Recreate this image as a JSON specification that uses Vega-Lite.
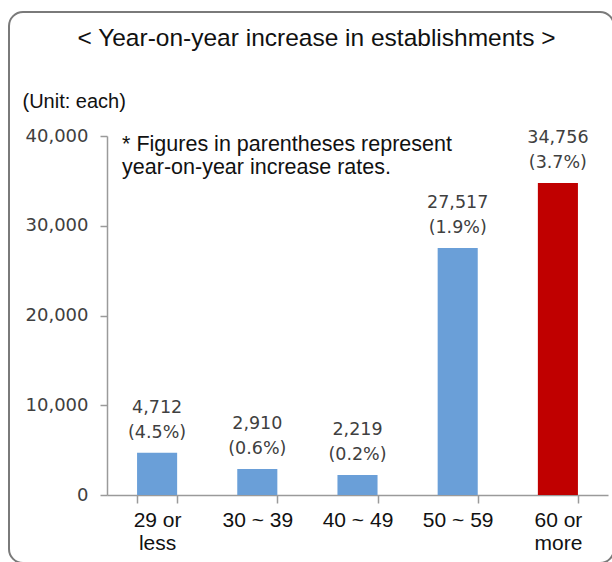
{
  "$schema": "https://vega.github.io/schema/vega-lite/v6.json",
  "autosize": {"type": "none"},
  "padding": {"left": 9, "top": 12, "right": 0, "bottom": 0},
  "width": 605,
  "height": 551,
  "background": "white",
  "title": {
    "text": "< Year-on-year increase in establishments >",
    "anchor": "middle",
    "frame": "group",
    "offset": -39,
    "dx": 5,
    "font": "Liberation Sans",
    "fontSize": 24.5,
    "fontWeight": "normal",
    "color": "#111111"
  },
  "config": {
    "view": {"stroke": "#7a7a7a", "strokeWidth": 2, "cornerRadius": 14}
  },
  "datasets": {
    "bars": [
      {"age": "29 or less", "count": 4712, "rate": "(4.5%)", "hl": "no"},
      {"age": "30 ~ 39", "count": 2910, "rate": "(0.6%)", "hl": "no"},
      {"age": "40 ~ 49", "count": 2219, "rate": "(0.2%)", "hl": "no"},
      {"age": "50 ~ 59", "count": 27517, "rate": "(1.9%)", "hl": "no"},
      {"age": "60 or more", "count": 34756, "rate": "(3.7%)", "hl": "yes"}
    ],
    "note": [
      {"age": "29 or less", "count": 40000, "note": "* Figures in parentheses represent|year-on-year increase rates."}
    ]
  },
  "data": {"name": "bars"},
  "encoding": {
    "x": {
      "field": "age",
      "type": "nominal",
      "sort": ["29 or less", "30 ~ 39", "40 ~ 49", "50 ~ 59", "60 or more"],
      "scale": {"range": [98, 599], "paddingInner": 0.6, "paddingOuter": 0.3},
      "axis": {
        "title": null,
        "orient": "bottom",
        "offset": -68,
        "tickBand": "extent",
        "labelAngle": 0,
        "labelExpr": "datum.value == '29 or less' ? ['29 or', 'less'] : datum.value == '60 or more' ? ['60 or', 'more'] : datum.value",
        "labelFont": "Liberation Sans",
        "labelFontSize": 21,
        "labelColor": "#111111",
        "labelLineHeight": 23,
        "labelPadding": 6,
        "labelBaseline": "top",
        "tickSize": 8,
        "tickColor": "#9a9a9a",
        "domainColor": "#9a9a9a",
        "domainWidth": 1.5,
        "tickWidth": 1.5
      }
    },
    "y": {
      "field": "count",
      "type": "quantitative",
      "scale": {"domain": [0, 40000], "range": [483, 124], "nice": false},
      "axis": {
        "title": "(Unit: each)",
        "titleAngle": 0,
        "titleAlign": "left",
        "titleBaseline": "alphabetic",
        "titleX": -85,
        "titleY": 95,
        "titleFont": "Liberation Sans",
        "titleFontSize": 20,
        "titleFontWeight": "normal",
        "titleColor": "#111111",
        "offset": -98,
        "values": [0, 10000, 20000, 30000, 40000],
        "format": ",.0f",
        "grid": false,
        "labelFont": "DejaVu Sans",
        "labelFontSize": 18,
        "labelColor": "#404040",
        "labelPadding": 12,
        "tickSize": 7,
        "tickColor": "#9a9a9a",
        "domainColor": "#9a9a9a",
        "domainWidth": 1.5,
        "tickWidth": 1.5
      }
    }
  },
  "layer": [
    {
      "mark": {"type": "bar"},
      "encoding": {
        "color": {
          "field": "hl",
          "type": "nominal",
          "scale": {"domain": ["no", "yes"], "range": ["#6a9fd8", "#c00000"]},
          "legend": null
        }
      }
    },
    {
      "mark": {"type": "text", "font": "DejaVu Sans", "fontSize": 17.5, "color": "#404040", "baseline": "middle", "dy": -45},
      "encoding": {"text": {"field": "count", "type": "quantitative", "format": ",.0f"}}
    },
    {
      "mark": {"type": "text", "font": "DejaVu Sans", "fontSize": 17.5, "color": "#404040", "baseline": "middle", "dy": -20},
      "encoding": {"text": {"field": "rate", "type": "nominal"}}
    },
    {
      "data": {"name": "note"},
      "mark": {"type": "text", "font": "Liberation Sans", "fontSize": 21.5, "color": "#111111", "align": "left", "baseline": "top", "dx": -35, "dy": -2, "lineBreak": "|", "lineHeight": 23},
      "encoding": {"text": {"field": "note", "type": "nominal"}}
    }
  ]
}
